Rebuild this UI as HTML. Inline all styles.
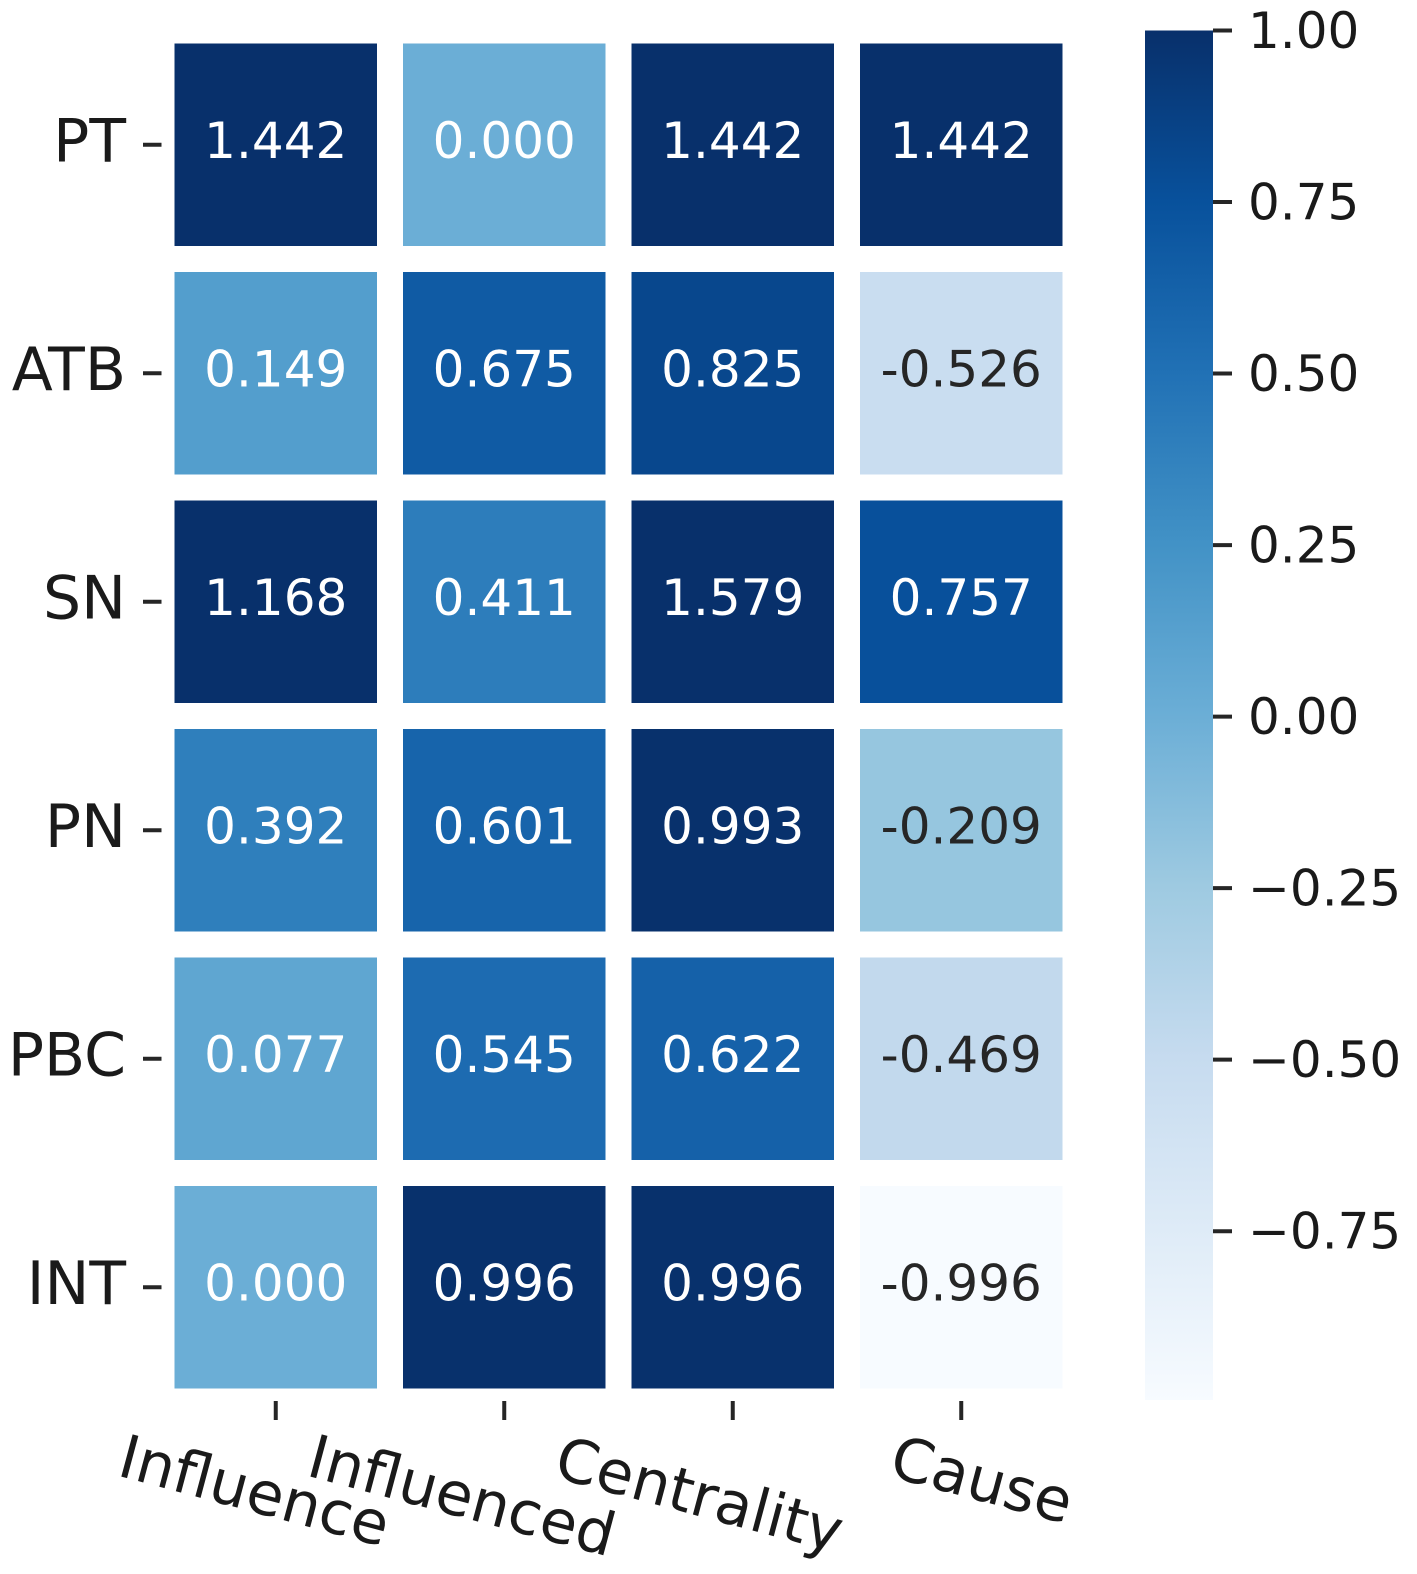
<!DOCTYPE html>
<html lang="en">
<head>
<meta charset="utf-8">
<title>Heatmap</title>
<style>
  html, body { margin: 0; padding: 0; background: #fff; }
  svg { display: block; }
  text { font-family: "DejaVu Sans", "Liberation Sans", sans-serif; }
</style>
</head>
<body>
<svg id="chart" xmlns="http://www.w3.org/2000/svg" width="1417" height="1574" viewBox="0 0 1417 1574"></svg>
<script>
const rowLabels = ['PT', 'ATB', 'SN', 'PN', 'PBC', 'INT'];
const colLabels = ['Influence', 'Influenced', 'Centrality', 'Cause'];
const influenceValues = [1.442, 0.149, 1.168, 0.392, 0.077, 0.000];
const influencedValues = [0.000, 0.675, 0.411, 0.601, 0.545, 0.996];
const centralityValues = [1.442, 0.825, 1.579, 0.993, 0.622, 0.996];
const causeValues = [1.442, -0.526, 0.757, -0.209, -0.469, -0.996];
const colorbarTicks = [1.00, 0.75, 0.50, 0.25, 0.00, -0.25, -0.50, -0.75];
const colorMin = -0.996;
const colorMax = 1.0;

const columns = [influenceValues, influencedValues, centralityValues, causeValues];
const blues = ['#f7fbff', '#deebf7', '#c6dbef', '#9ecae1', '#6baed6', '#4292c6', '#2171b5', '#08519c', '#08306b'];
const plot = { left: 161.5, top: 30.5, pitchX: 228.5, pitchY: 228.5, gap: 26 };
const bar = { left: 1145, right: 1213, top: 30.5, bottom: 1400 };
const xLabelShift = {
  Influence: { dx: -21, y: 1490 },
  Influenced: { dx: -42, y: 1495 },
  Centrality: { dx: -33, y: 1494 },
  Cause: { dx: 21, y: 1479 }
};
const svg = document.getElementById('chart');
const NS = 'http://www.w3.org/2000/svg';

function make(tag, attrs, parent) {
  const el = document.createElementNS(NS, tag);
  for (const key in attrs) el.setAttribute(key, attrs[key]);
  (parent || svg).appendChild(el);
  return el;
}
function hexToRgb(hex) {
  return [1, 3, 5].map(i => parseInt(hex.slice(i, i + 2), 16));
}
function colorRgb(value) {
  const t = Math.max(0, Math.min(1, (value - colorMin) / (colorMax - colorMin)));
  const pos = t * (blues.length - 1);
  const i = Math.min(blues.length - 2, Math.floor(pos));
  const a = hexToRgb(blues[i]);
  const b = hexToRgb(blues[i + 1]);
  return a.map((c, k) => Math.round(c + (b[k] - c) * (pos - i)));
}
function luminance(rgb) {
  const lin = rgb.map(c => {
    const s = c / 255;
    return s <= 0.03928 ? s / 12.92 : Math.pow((s + 0.055) / 1.055, 2.4);
  });
  return 0.2126 * lin[0] + 0.7152 * lin[1] + 0.0722 * lin[2];
}
function xCenter(col) { return plot.left + plot.pitchX * (col + 0.5); }
function yCenter(row) { return plot.top + plot.pitchY * (row + 0.5); }
function barY(value) {
  return bar.bottom - (value - colorMin) / (colorMax - colorMin) * (bar.bottom - bar.top);
}

// heatmap cells and annotations
columns.forEach((values, col) => {
  values.forEach((value, row) => {
    const rgb = colorRgb(value);
    const size = plot.pitchX - plot.gap;
    const cell = make('rect', {
      x: xCenter(col) - size / 2,
      y: yCenter(row) - size / 2,
      width: size,
      height: size,
      fill: 'rgb(' + rgb.join(',') + ')'
    });
    
    

    const label = make('text', {
      x: xCenter(col),
      y: yCenter(row) + 13,
      'text-anchor': 'middle',
      'font-size': 50,
      fill: luminance(rgb) < 0.408 ? '#ffffff' : '#262626'
    });
    label.textContent = value.toFixed(3);
    
    
  });
});

// y axis
rowLabels.forEach((name, row) => {
  const tick = make('line', {
    x1: 143, x2: 161.5, y1: yCenter(row), y2: yCenter(row),
    stroke: '#262626', 'stroke-width': 4
  });
  
  

  const label = make('text', {
    x: 126, y: yCenter(row) + 16.5,
    'text-anchor': 'end', 'font-size': 60, fill: '#1a1a1a'
  });
  label.textContent = name;
  
  
});

// x axis
colLabels.forEach((name, col) => {
  const tick = make('line', {
    x1: xCenter(col), x2: xCenter(col), y1: 1401, y2: 1420,
    stroke: '#262626', 'stroke-width': 4
  });
  
  

  const shift = xLabelShift[name];
  const cx = xCenter(col) + shift.dx;
  const label = make('text', {
    x: cx, y: shift.y,
    dy: '0.36em',
    'text-anchor': 'middle',
    'font-size': 60,
    fill: '#1a1a1a',
    transform: 'rotate(15 ' + cx + ' ' + shift.y + ')'
  });
  label.textContent = name;
  
  
});

// colorbar
const defs = make('defs', {});
const gradient = make('linearGradient', { id: 'blues-gradient', x1: 0, y1: 1, x2: 0, y2: 0 }, defs);
blues.forEach((color, i) => {
  make('stop', { offset: i / (blues.length - 1), 'stop-color': color }, gradient);
});
const colorbar = make('rect', {
  x: bar.left, y: bar.top,
  width: bar.right - bar.left,
  height: bar.bottom - bar.top,
  fill: 'url(#blues-gradient)'
});



colorbarTicks.forEach(value => {
  const y = barY(value);
  const tick = make('line', {
    x1: bar.right, x2: 1232, y1: y, y2: y,
    stroke: '#262626', 'stroke-width': 4
  });
  
  

  const label = make('text', {
    x: 1248, y: y + 17.5,
    'font-size': 50, fill: '#1a1a1a'
  });
  label.textContent = (value < 0 ? '\u2212' : '') + Math.abs(value).toFixed(2);
  
  
});
</script>
</body>
</html>
